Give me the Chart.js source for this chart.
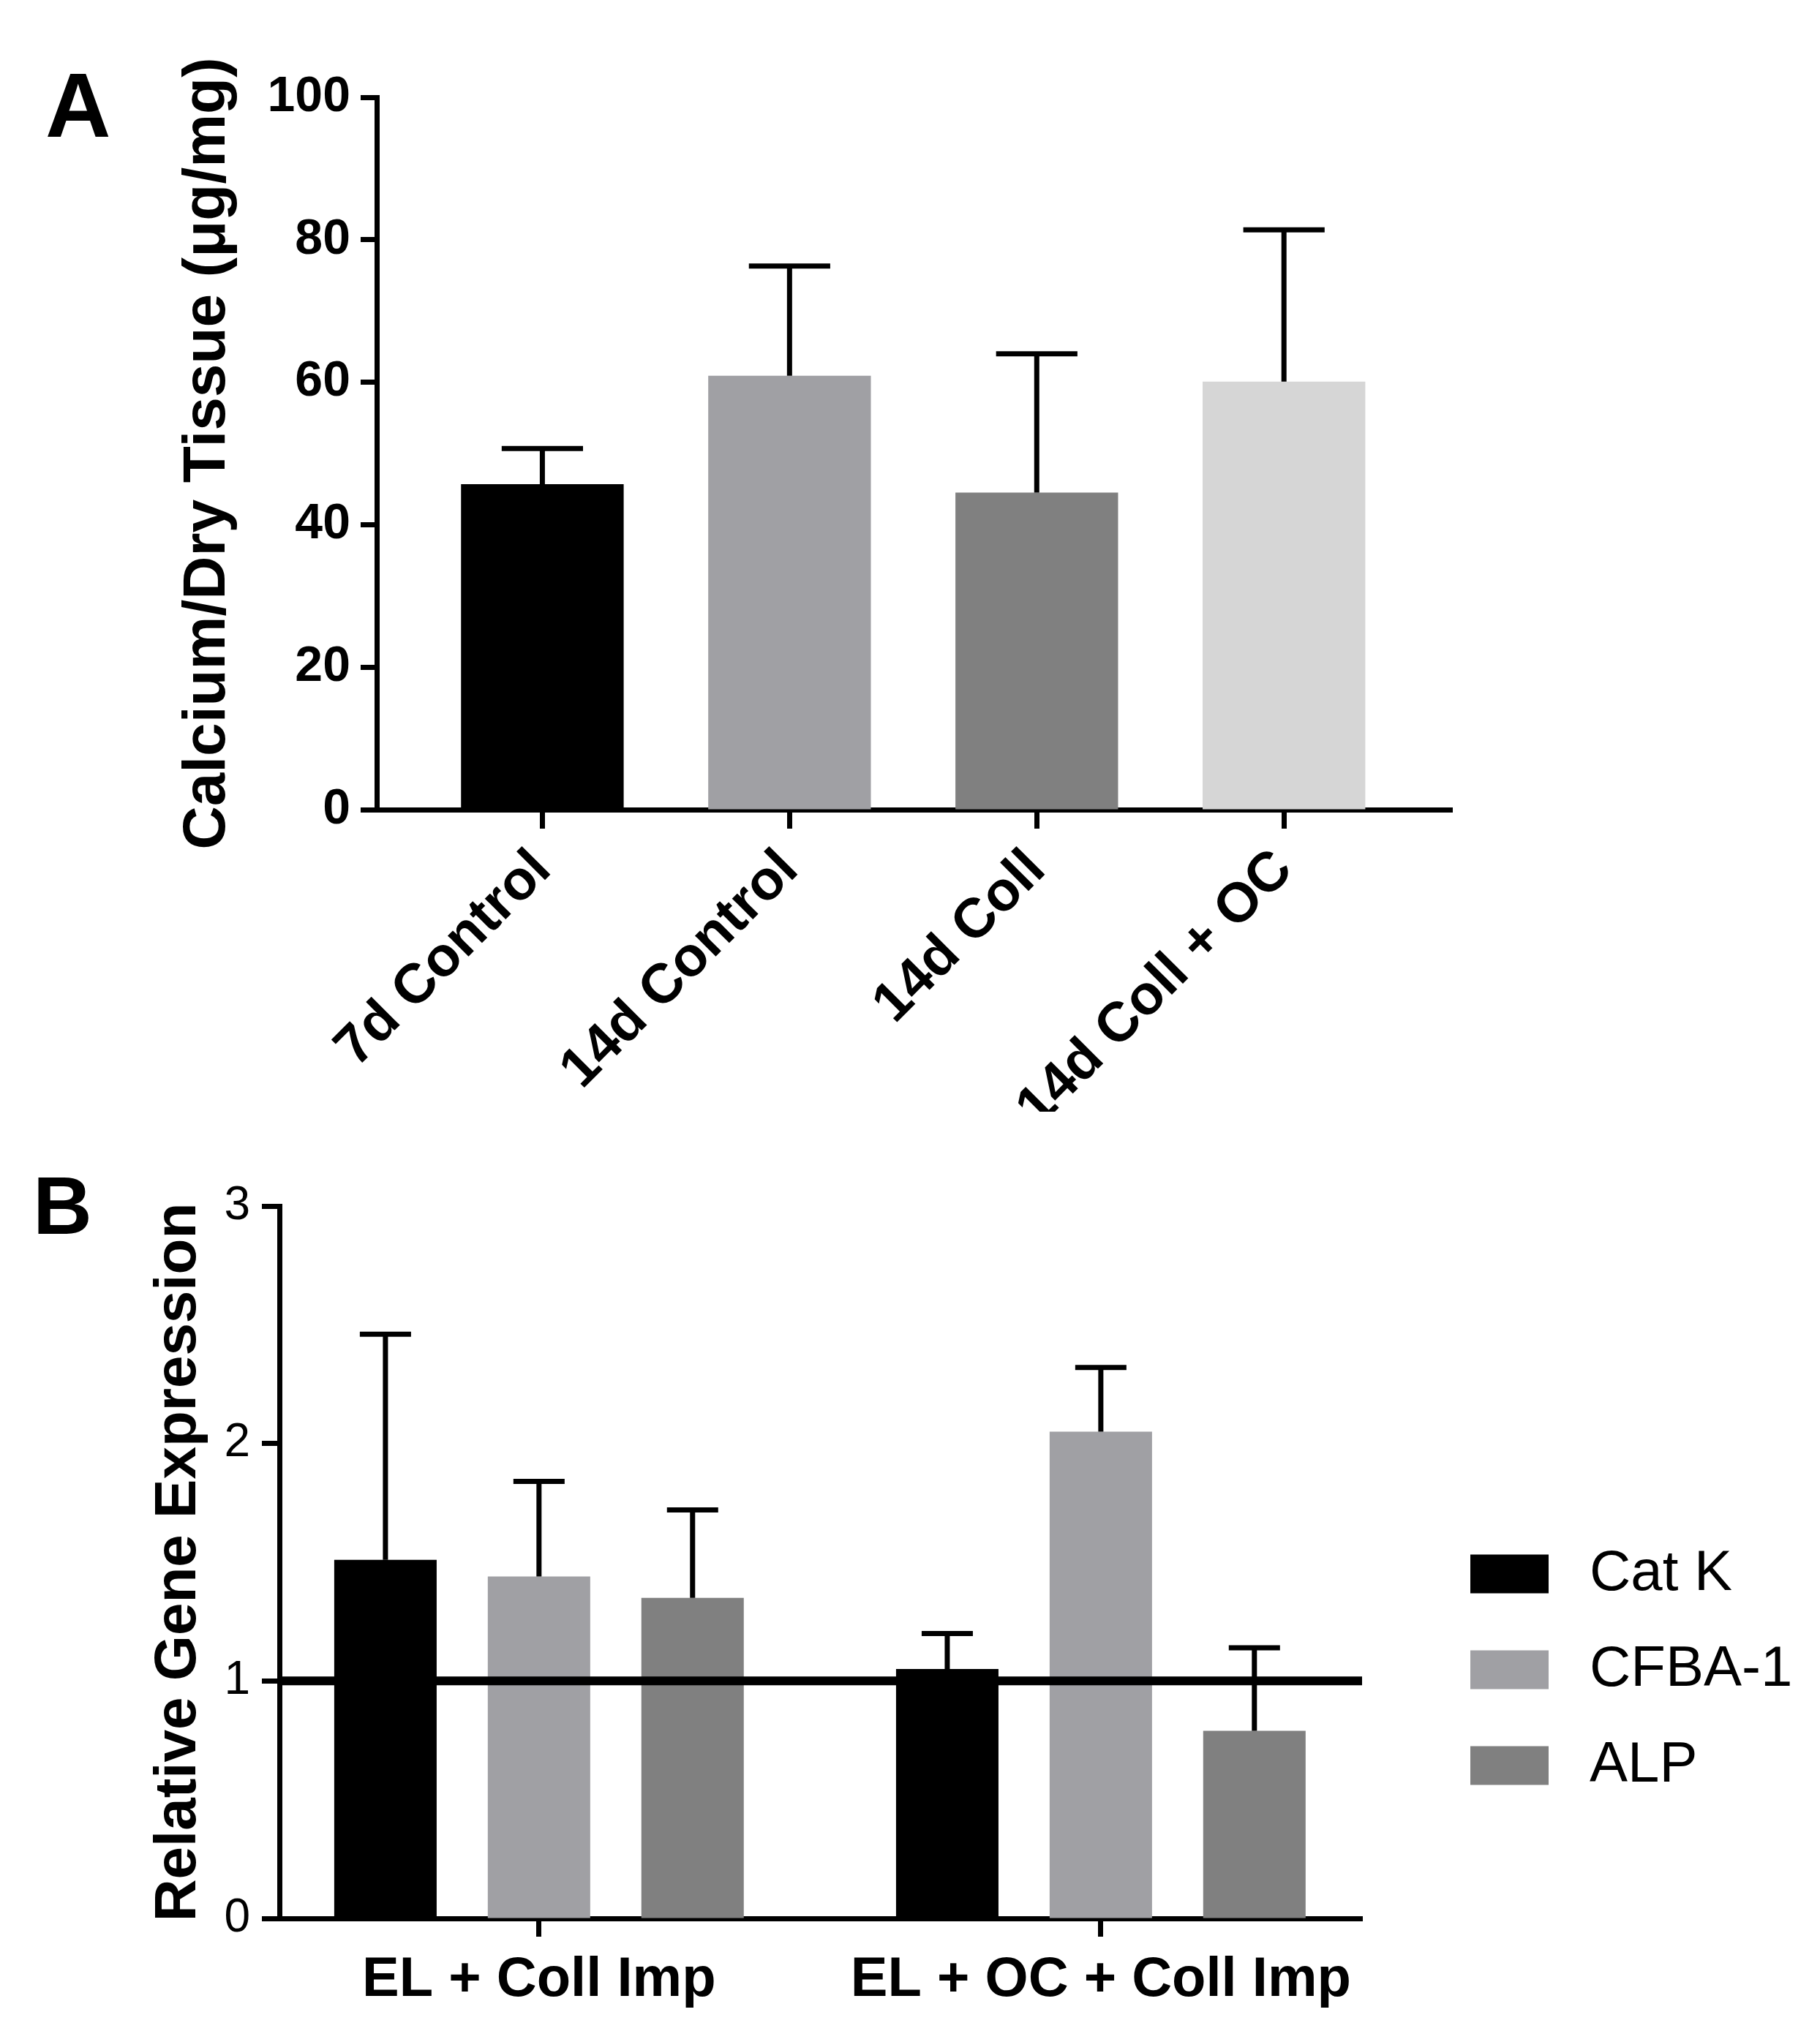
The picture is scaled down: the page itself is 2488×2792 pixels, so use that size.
<!DOCTYPE html>
<html>
<head>
<meta charset="utf-8">
<script src="https://cdn.jsdelivr.net/npm/chart.js@4.4.1/dist/chart.umd.min.js"></script>
<style>
  html, body { margin: 0; padding: 0; background: #fff; }
  body { width: 2488px; height: 2792px; position: relative; overflow: hidden; font-family: "Liberation Sans", Arial, sans-serif; }
  .panel { position: absolute; font-weight: bold; line-height: 1; color: #000; }
  #panelA { left: 62px; top: 82px; font-size: 124px; }
  #panelB { left: 45px; top: 1593px; font-size: 112px; }
  #chartA { position: absolute; left: 0; top: 0; }
  #chartB { position: absolute; left: 0; top: 1540px; }
</style>
</head>
<body>
<div class="panel" id="panelA">A</div>
<div class="panel" id="panelB">B</div>
<canvas id="chartA" width="2488" height="1520"></canvas>
<canvas id="chartB" width="2488" height="1252"></canvas>
<script>
// Panel A: calcium content
const calciumLabels = ['7d Control', '14d Control', '14d Coll', '14d Coll + OC'];
const calciumMeans = [45.7, 60.9, 44.5, 60.1];
const calciumErrors = [5.0, 15.4, 19.5, 21.3];
const calciumColors = ['#000000', '#a0a0a4', '#808080', '#d6d6d6'];
const calciumTicks = [0, 20, 40, 60, 80, 100];

// Panel B: relative gene expression
const geneGroups = ['EL + Coll Imp', 'EL + OC + Coll Imp'];
const catKValues = [1.51, 1.05];
const catKErrors = [0.95, 0.15];
const cfbaValues = [1.44, 2.05];
const cfbaErrors = [0.40, 0.27];
const alpValues = [1.35, 0.79];
const alpErrors = [0.37, 0.35];
const geneTicks = [0, 1, 2, 3];
const geneBaseline = 1;

Chart.defaults.font.family = '"Liberation Sans", Arial, sans-serif';
Chart.defaults.color = '#000';

function toPoints(values) {
    return values.map((v, i) => ({ x: i, y: v }));
}

// Upper error bar with cap
const errorBarPlugin = {
    id: 'errorBars',
    afterDatasetsDraw(chart, args, opts) {
        const ctx = chart.ctx;
        const yScale = chart.scales.y;
        ctx.save();
        ctx.strokeStyle = '#000';
        ctx.lineWidth = opts.lineWidth;
        chart.data.datasets.forEach((ds, i) => {
            if (!ds.errors) return;
            chart.getDatasetMeta(i).data.forEach((bar, j) => {
                const top = yScale.getPixelForValue(ds.data[j].y + ds.errors[j]);
                const half = bar.width * opts.capRatio / 2;
                ctx.beginPath();
                ctx.moveTo(bar.x, bar.y);
                ctx.lineTo(bar.x, top);
                ctx.moveTo(bar.x - half, top);
                ctx.lineTo(bar.x + half, top);
                ctx.stroke();
            });
        });
        ctx.restore();
    }
};

// Horizontal reference line (panel B, y = 1)
const refLinePlugin = {
    id: 'refLine',
    afterDatasetsDraw(chart, args, opts) {
        const { ctx, chartArea } = chart;
        const y = chart.scales.y.getPixelForValue(opts.value);
        ctx.save();
        ctx.strokeStyle = '#000';
        ctx.lineWidth = opts.lineWidth;
        ctx.beginPath();
        ctx.moveTo(chartArea.left, y);
        ctx.lineTo(chartArea.right, y);
        ctx.stroke();
        ctx.restore();
    }
};

// Legend at the right of panel B
const sideLegendPlugin = {
    id: 'sideLegend',
    afterDraw(chart, args, opts) {
        const { ctx, chartArea } = chart;
        ctx.save();
        ctx.font = opts.font;
        ctx.textBaseline = 'middle';
        ctx.textAlign = 'left';
        chart.data.datasets.forEach((ds, i) => {
            const cy = chartArea.top + opts.top + i * opts.rowGap;
            const x = chartArea.right + opts.offsetX;
            ctx.fillStyle = ds.backgroundColor;
            ctx.fillRect(x, cy - opts.boxHeight / 2, opts.boxWidth, opts.boxHeight);
            ctx.fillStyle = '#000';
            ctx.fillText(ds.label, x + opts.boxWidth + opts.textGap, cy);
        });
        ctx.restore();
    }
};

function integerTicks(count) {
    return function(axis) {
        axis.ticks = [];
        for (let i = 0; i < count; i++) axis.ticks.push({ value: i });
    };
}

// Chart A
new Chart(document.getElementById('chartA'), {
    type: 'bar',
    data: {
        datasets: [{
            label: 'Calcium/Dry Tissue',
            data: toPoints(calciumMeans),
            errors: calciumErrors,
            backgroundColor: calciumColors,
            borderWidth: 0,
            categoryPercentage: 1,
            barPercentage: 0.658
        }]
    },
    options: {
        responsive: false,
        animation: false,
        devicePixelRatio: 1,
        events: [],
        layout: { padding: { top: 133, right: 503, bottom: 0, left: 0 } },
        plugins: {
            legend: { display: false },
            tooltip: { enabled: false },
            errorBars: { lineWidth: 7, capRatio: 0.5 }
        },
        scales: {
            x: {
                type: 'linear',
                bounds: 'data',
                min: -0.67,
                max: 3.68,
                offset: false,
                z: 1,
                afterFit: (s) => { s.height = 413; },
                afterBuildTicks: integerTicks(calciumLabels.length),
                grid: { drawOnChartArea: false, offset: false, tickLength: 26, tickWidth: 7, tickColor: '#000' },
                border: { color: '#000', width: 7 },
                ticks: {
                    autoSkip: false,
                    minRotation: 45,
                    maxRotation: 45,
                    padding: 12,
                    font: { size: 76, weight: 'bold' },
                    callback: (v) => calciumLabels[v]
                }
            },
            y: {
                min: calciumTicks[0],
                max: calciumTicks[calciumTicks.length - 1],
                z: 1,
                afterFit: (s) => { s.width = 515; },
                grid: { drawOnChartArea: false, tickLength: 22, tickWidth: 7, tickColor: '#000' },
                border: { color: '#000', width: 7 },
                ticks: {
                    stepSize: calciumTicks[1] - calciumTicks[0],
                    padding: 14,
                    font: { size: 68, weight: 'bold' }
                },
                title: {
                    display: true,
                    text: 'Calcium/Dry Tissue (μg/mg)',
                    font: { size: 82, weight: 'bold' },
                    padding: { top: 235, bottom: 0 }
                }
            }
        }
    },
    plugins: [errorBarPlugin]
});

// Chart B
const geneSeries = [
    { label: 'Cat K', values: catKValues, errors: catKErrors, color: '#000000' },
    { label: 'CFBA-1', values: cfbaValues, errors: cfbaErrors, color: '#a0a0a4' },
    { label: 'ALP', values: alpValues, errors: alpErrors, color: '#808080' }
];

new Chart(document.getElementById('chartB'), {
    type: 'bar',
    data: {
        datasets: geneSeries.map(s => ({
            label: s.label,
            data: toPoints(s.values),
            errors: s.errors,
            backgroundColor: s.color,
            borderWidth: 0,
            categoryPercentage: 0.82,
            barPercentage: 0.667
        }))
    },
    options: {
        responsive: false,
        animation: false,
        devicePixelRatio: 1,
        events: [],
        layout: { padding: { top: 109, right: 626, bottom: 0, left: 0 } },
        plugins: {
            legend: { display: false },
            tooltip: { enabled: false },
            errorBars: { lineWidth: 7, capRatio: 0.5 },
            refLine: { value: geneBaseline, lineWidth: 12 },
            sideLegend: {
                font: '78px "Liberation Sans", Arial, sans-serif',
                offsetX: 148, top: 503, rowGap: 131,
                boxWidth: 107, boxHeight: 53, textGap: 56
            }
        },
        scales: {
            x: {
                type: 'linear',
                bounds: 'data',
                min: -0.462,
                max: 1.465,
                offset: false,
                z: 1,
                afterFit: (s) => { s.height = 169; },
                afterBuildTicks: integerTicks(geneGroups.length),
                grid: { drawOnChartArea: false, offset: false, tickLength: 25, tickWidth: 7, tickColor: '#000' },
                border: { color: '#000', width: 7 },
                ticks: {
                    autoSkip: false,
                    maxRotation: 0,
                    padding: 14,
                    font: { size: 76, weight: 'bold' },
                    callback: (v) => geneGroups[v]
                }
            },
            y: {
                min: geneTicks[0],
                max: geneTicks[geneTicks.length - 1],
                z: 1,
                afterFit: (s) => { s.width = 382; },
                grid: { drawOnChartArea: false, tickLength: 24, tickWidth: 7, tickColor: '#000' },
                border: { color: '#000', width: 7 },
                ticks: {
                    stepSize: geneTicks[1] - geneTicks[0],
                    padding: 16,
                    font: { size: 64 }
                },
                title: {
                    display: true,
                    text: 'Relative Gene Expression',
                    font: { size: 80, weight: 'bold' },
                    padding: { top: 197, bottom: 0 }
                }
            }
        }
    },
    plugins: [errorBarPlugin, refLinePlugin, sideLegendPlugin]
});
</script>
</body>
</html>
